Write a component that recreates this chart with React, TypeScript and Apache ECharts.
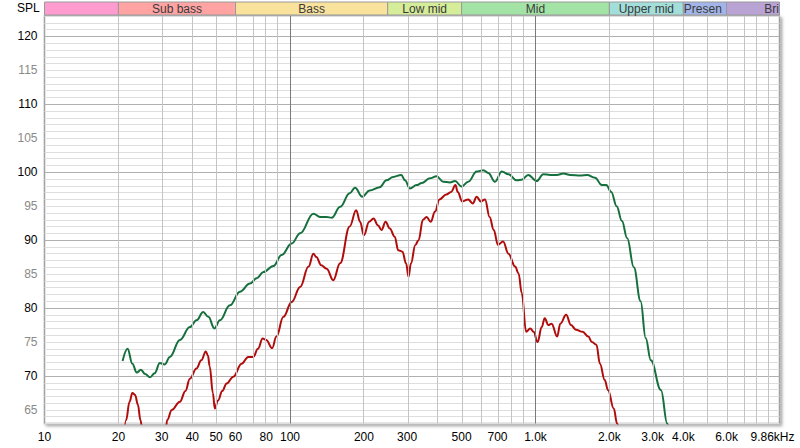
import React, { useEffect, useRef } from "react";
import * as echarts from "echarts";

const greenFreq = [20.8, 21.8, 22.8, 23.75, 24.7, 25.7, 26.9, 28.1, 29.5, 30.9, 32.4, 35.6, 39.1, 41.6, 44.3, 46.5, 49.2, 51.8, 56.9, 62.5, 68.7, 73.2, 77.9, 85.6, 92.4, 101.6, 110, 124.5, 132.5, 141, 148, 160, 175, 184, 197, 211, 232, 247, 263, 284, 294, 308, 328, 344, 371, 395, 421, 448, 470, 500, 532, 576, 613, 642, 684, 729, 776, 838, 878, 934, 1010, 1076, 1146, 1222, 1300, 1385, 1522, 1622, 1748, 1862, 1942, 2035, 2140, 2250, 2362, 2515, 2680, 2810, 2950, 3245, 3440, 3520];
const greenSpl = [72.2, 74.0, 71.8, 70.5, 70.9, 70.3, 69.8, 70.4, 71.9, 71.7, 72.8, 75.3, 77.2, 78.2, 79.4, 78.7, 77.0, 78.2, 80.4, 82.4, 83.6, 84.4, 85.3, 86.2, 87.8, 89.5, 91.0, 93.9, 93.4, 93.4, 93.3, 94.9, 96.9, 97.7, 96.4, 97.3, 97.8, 98.8, 99.3, 99.6, 98.8, 97.6, 98.1, 98.4, 99.1, 99.4, 98.6, 98.5, 98.7, 97.9, 98.6, 100.1, 100.3, 99.9, 98.6, 100.1, 99.7, 98.8, 98.9, 99.6, 98.7, 99.7, 99.6, 99.6, 99.8, 99.6, 99.5, 99.6, 99.2, 98.1, 98.1, 97.1, 95.0, 92.8, 90.3, 86.0, 81.0, 75.6, 72.3, 67.9, 63.0, 61.5];

const redFreq = [20.8, 21.5, 22.2, 22.8, 23.4, 24.0, 24.6, 25.2, 28, 31, 31.6, 33, 35.6, 37.5, 39.1, 41.6, 43.5, 45.4, 46.3, 47.1, 48.5, 49.4, 50.9, 53, 55.2, 58.8, 63.5, 67.6, 70.9, 74, 77.4, 80, 84.6, 88, 94, 101.6, 110, 119, 124.5, 128, 134, 141, 150, 160, 175, 186, 193, 200, 210, 219, 228, 236, 245, 255, 267, 276, 287, 297, 304, 311, 324, 334, 348, 360, 374, 390, 406, 433, 453, 472, 482, 503, 532, 555, 576, 598, 623, 650, 676, 703, 738, 776, 826, 853, 879, 916, 952, 982, 1020, 1060, 1090, 1128, 1163, 1225, 1262, 1333, 1395, 1462, 1555, 1640, 1698, 1770, 1830, 1914, 1975, 2083, 2150, 2200];
const redSpl = [58, 63.5, 66.2, 67.5, 67.2, 65.8, 63.5, 61, 56, 61, 63.5, 65.0, 66.2, 67.8, 69.6, 71.1, 72.3, 73.6, 73.0, 71.4, 67.5, 65.2, 66.4, 67.8, 68.9, 69.9, 71.8, 72.8, 72.8, 74.0, 75.5, 75.3, 74.1, 75.8, 78.7, 80.9, 83.1, 86.1, 88.0, 87.5, 86.3, 85.8, 84.1, 86.6, 92.0, 94.4, 92.7, 90.7, 92.7, 93.2, 92.2, 91.5, 92.7, 91.7, 90.5, 88.5, 88.3, 86.6, 84.6, 86.6, 89.3, 90.0, 93.0, 93.4, 92.7, 94.2, 96.0, 96.7, 97.1, 98.1, 97.1, 95.7, 96.0, 95.4, 96.4, 95.7, 96.0, 93.4, 91.5, 89.3, 89.8, 88.0, 86.1, 85.1, 82.2, 76.5, 77.0, 76.5, 75.0, 77.2, 78.5, 77.5, 77.7, 75.8, 77.7, 79.0, 77.5, 76.8, 76.5, 75.8, 75.0, 74.6, 71.8, 69.4, 67.9, 65.2, 63.0, 61.5];

const xTickFreqs = [10, 20, 30, 40, 50, 60, 80, 100, 200, 300, 500, 700, 1000, 2000, 3000, 4000, 6000, 9860];
const xTickLabels = ["10", "20", "30", "40", "50", "60", "80", "100", "200", "300", "500", "700", "1.0k", "2.0k", "3.0k", "4.0k", "6.0k", "9.86kHz"];
const minorGridFreqs = [20, 30, 40, 50, 60, 70, 80, 90, 200, 300, 400, 500, 600, 700, 800, 900, 2000, 3000, 4000, 5000, 6000, 7000, 8000, 9000];
const majorGridFreqs = [100, 1000];

const bandNames = ["", "Sub bass", "Bass", "Low mid", "Mid", "Upper mid", "Presen", "Bri"];
const bandStarts = [10, 20, 60, 250, 500, 2000, 4000, 6000];
const bandEnds = [20, 60, 250, 500, 2000, 4000, 6000, 9860];
const bandColors = ["#ff9ccf", "#ffa3a3", "#f8e29c", "#d5ec98", "#a3e3a6", "#a2dfdb", "#a3b5e8", "#b9a3d5"];
const bandLabelPos = ["inside", "inside", "inside", "inside", "inside", "inside", "insideLeft", "insideRight"];

const fMin = 10;
const fMax = 9860;
const yMin = 63;
const yMax = 123;

const FONT = "Liberation Sans";
const lg = (f: number) => Math.log10(f);

export default function App() {
  const ref = useRef<HTMLDivElement>(null);
  useEffect(() => {
    const chart = echarts.init(ref.current!, undefined, { renderer: "svg" });
    const hColors = Array.from({ length: 10 }, (_, i) => ((yMin + i) % 10 === 0 ? "#b0b0b0" : "#dedede"));
    const option: any = {
      animation: false,
      backgroundColor: "#ffffff",
      graphic: [
        {
          type: "text",
          left: 17,
          top: 2,
          style: { text: "SPL", fontFamily: FONT, fontSize: 12, fill: "#000" },
        },
      ],
      grid: [
        {
          left: 44.5,
          right: 20.5,
          top: 16,
          bottom: 24.5,
          show: true,
          backgroundColor: "#ffffff",
          borderColor: "#a0a0a0",
          borderWidth: 1.5,
          shadowColor: "rgba(0,0,0,0.35)",
          shadowBlur: 3,
          shadowOffsetX: 2,
          shadowOffsetY: 2,
          containLabel: false,
          outerBoundsMode: "none",
        },
        {
          left: 44.5,
          right: 20.5,
          top: 2,
          height: 13,
          show: false,
          containLabel: false,
          outerBoundsMode: "none",
        },
      ],
      xAxis: [
        {
          type: "value",
          gridIndex: 0,
          min: lg(fMin),
          max: lg(fMax),
          axisLine: { show: false },
          axisTick: { show: false, customValues: xTickFreqs.map(lg) },
          splitLine: { show: false },
          axisLabel: {
            customValues: xTickFreqs.map(lg),
            margin: 7,
            fontFamily: FONT,
            fontSize: 12,
            color: "#000",
            formatter: (v: number) => {
              const i = xTickFreqs.findIndex((f) => Math.abs(lg(f) - v) < 1e-6);
              if (i < 0) return "";
              return i === xTickFreqs.length - 1 ? `{e|${xTickLabels[i]}}` : xTickLabels[i];
            },
            rich: { e: { padding: [0, 14, 0, 0], fontFamily: FONT, fontSize: 12, color: "#000" } },
          },
        },
        {
          type: "value",
          gridIndex: 1,
          min: lg(fMin),
          max: lg(fMax),
          show: false,
          splitLine: { show: false },
        },
      ],
      yAxis: [
        {
          type: "value",
          gridIndex: 0,
          min: yMin,
          max: yMax,
          interval: 1,
          axisLine: { show: false },
          axisTick: { show: false },
          splitLine: { show: true, lineStyle: { color: hColors, width: 1 } },
          axisLabel: {
            margin: 7,
            fontFamily: FONT,
            fontSize: 12,
            formatter: (v: number) => (Number(v) % 5 === 0 ? String(v) : ""),
            color: (v: any) => (Number(v) % 10 === 0 ? "#000" : "#8a8a8a"),
          },
        },
        {
          type: "value",
          gridIndex: 1,
          min: 0,
          max: 1,
          show: false,
          splitLine: { show: false },
        },
      ],
      series: [
        {
          type: "line",
          xAxisIndex: 0,
          yAxisIndex: 0,
          data: [],
          z: 1,
          silent: true,
          markLine: {
            silent: true,
            symbol: ["none", "none"],
            label: { show: false },
            lineStyle: { color: "#c4c4c4", width: 1, type: "solid" },
            emphasis: { disabled: true },
            data: [
              ...minorGridFreqs.map((f) => ({ xAxis: lg(f) })),
              ...majorGridFreqs.map((f) => ({ xAxis: lg(f), lineStyle: { color: "#7a7a7a", width: 1, type: "solid" } })),
            ],
          },
        },
        {
          type: "line",
          xAxisIndex: 1,
          yAxisIndex: 1,
          data: [],
          silent: true,
          markArea: {
            silent: true,
            emphasis: { disabled: true },
            label: { show: true, fontFamily: FONT, fontSize: 12, color: "#3a3a3a" },
            data: bandNames.map((name, i) => [
              {
                name,
                xAxis: lg(bandStarts[i]),
                itemStyle: { color: bandColors[i], borderColor: "#9a9a9a", borderWidth: 1 },
                label: { position: bandLabelPos[i], distance: 1 },
              },
              { xAxis: lg(bandEnds[i]) },
            ]),
          },
        },
        {
          name: "green",
          type: "line",
          xAxisIndex: 0,
          yAxisIndex: 0,
          z: 3,
          showSymbol: false,
          smooth: 0.4,
          smoothMonotone: "x",
          lineStyle: { color: "#16703e", width: 2 },
          itemStyle: { color: "#16703e" },
          data: greenFreq.map((f, i) => [lg(f), greenSpl[i]]),
        },
        {
          name: "red",
          type: "line",
          xAxisIndex: 0,
          yAxisIndex: 0,
          z: 3,
          showSymbol: false,
          smooth: 0.4,
          smoothMonotone: "x",
          lineStyle: { color: "#b00c0c", width: 2 },
          itemStyle: { color: "#b00c0c" },
          data: redFreq.map((f, i) => [lg(f), redSpl[i]]),
        },
      ],
    };
    chart.setOption(option);
    return () => chart.dispose();
  }, []);
  return (
    <div
      ref={ref}
      style={{ position: "fixed", left: 0, top: 0, width: 800, height: 448, background: "#fff" }}
    />
  );
}
